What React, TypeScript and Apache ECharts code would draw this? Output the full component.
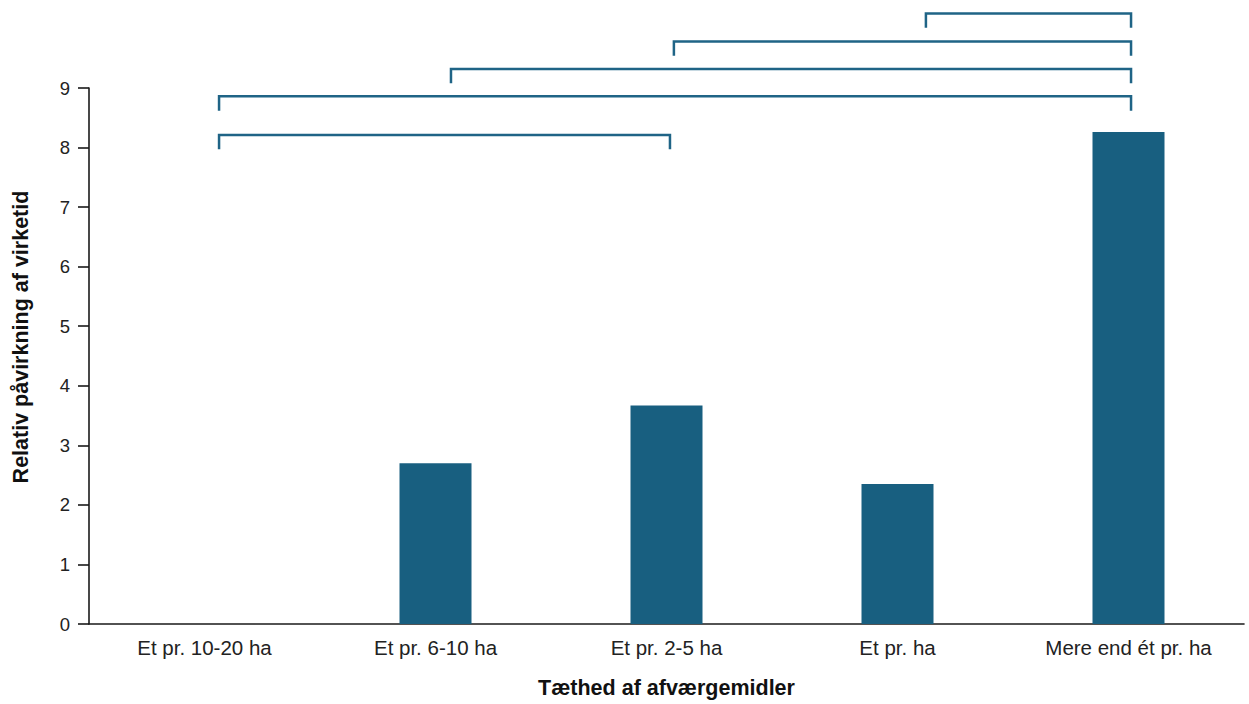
import React, { useEffect, useRef } from "react";
import * as echarts from "echarts";

const categories = ["Et pr. 10-20 ha", "Et pr. 6-10 ha", "Et pr. 2-5 ha", "Et pr. ha", "Mere end ét pr. ha"];
const values = [0, 2.7, 3.67, 2.35, 8.26];
const yTicks = [0, 1, 2, 3, 4, 5, 6, 7, 8, 9];
// significance brackets: [start position (category units), end position, height]
const bracketStart = [0.063, 0.063, 1.067, 2.032, 3.123];
const bracketEnd = [2.015, 4.011, 4.011, 4.011, 4.011];
const bracketLevel = [8.21, 8.86, 9.32, 9.78, 10.25];
const bracketTip = 0.24;

const FONT = "'Liberation Sans', Arial, sans-serif";

export default function App() {
  const ref = useRef<HTMLDivElement>(null);
  useEffect(() => {
    const chart = echarts.init(ref.current!, null, { renderer: "svg" });
    const bracketData = bracketStart.map((s, i) => [s, bracketEnd[i], bracketLevel[i]]);
    chart.setOption({
      animation: false,
      grid: { left: 89, right: 5, top: 88, bottom: 78 },
      xAxis: {
        type: "category",
        data: categories,
        name: "Tæthed af afværgemidler",
        nameLocation: "middle",
        nameGap: 53,
        nameTextStyle: { fontFamily: FONT, fontSize: 21.5, fontWeight: "bold", color: "#111" },
        axisLine: { lineStyle: { color: "#1a1a1a", width: 1.6 } },
        axisTick: { length: 10, lineStyle: { color: "#1a1a1a", width: 1.6 } },
        axisLabel: { fontFamily: FONT, fontSize: 20.5, color: "#222", margin: 13 },
      },
      yAxis: {
        type: "value",
        min: 0,
        max: yTicks[yTicks.length - 1],
        interval: 1,
        splitLine: { show: false },
        axisLine: { show: true, lineStyle: { color: "#1a1a1a", width: 1.6 } },
        axisTick: { show: true, length: 11, lineStyle: { color: "#1a1a1a", width: 1.6 } },
        axisLabel: { fontFamily: FONT, fontSize: 18.5, color: "#222", margin: 19 },
      },
      graphic: [
        {
          type: "text",
          x: 21,
          y: 337,
          rotation: Math.PI / 2,
          style: {
            text: "Relativ påvirkning af virketid",
            fontFamily: FONT,
            fontSize: 21.5,
            fontWeight: "bold",
            fill: "#111",
            align: "center",
            verticalAlign: "middle",
          },
        },
      ],
      series: [
        {
          type: "bar",
          data: values,
          barWidth: 72,
          itemStyle: { color: "#185f80" },
        },
        {
          type: "custom",
          clip: false,
          silent: true,
          data: bracketData,
          renderItem: (params: any, api: any) => {
            const s = api.value(0);
            const e = api.value(1);
            const y = api.value(2);
            const base = api.coord([0, y]);
            const band = api.size([1, 0])[0];
            const tipPx = api.size([0, bracketTip])[1];
            const x0 = base[0] + s * band;
            const x1 = base[0] + e * band;
            return {
              type: "polyline",
              shape: {
                points: [
                  [x0, base[1] + tipPx],
                  [x0, base[1]],
                  [x1, base[1]],
                  [x1, base[1] + tipPx],
                ],
              },
              style: { stroke: "#1f6486", lineWidth: 2.5, fill: "none" },
            };
          },
        },
      ],
    });
    return () => chart.dispose();
  }, []);
  return (
    <div
      ref={ref}
      style={{ position: "fixed", left: 0, top: 0, width: 1249, height: 704, background: "#fff" }}
    />
  );
}
